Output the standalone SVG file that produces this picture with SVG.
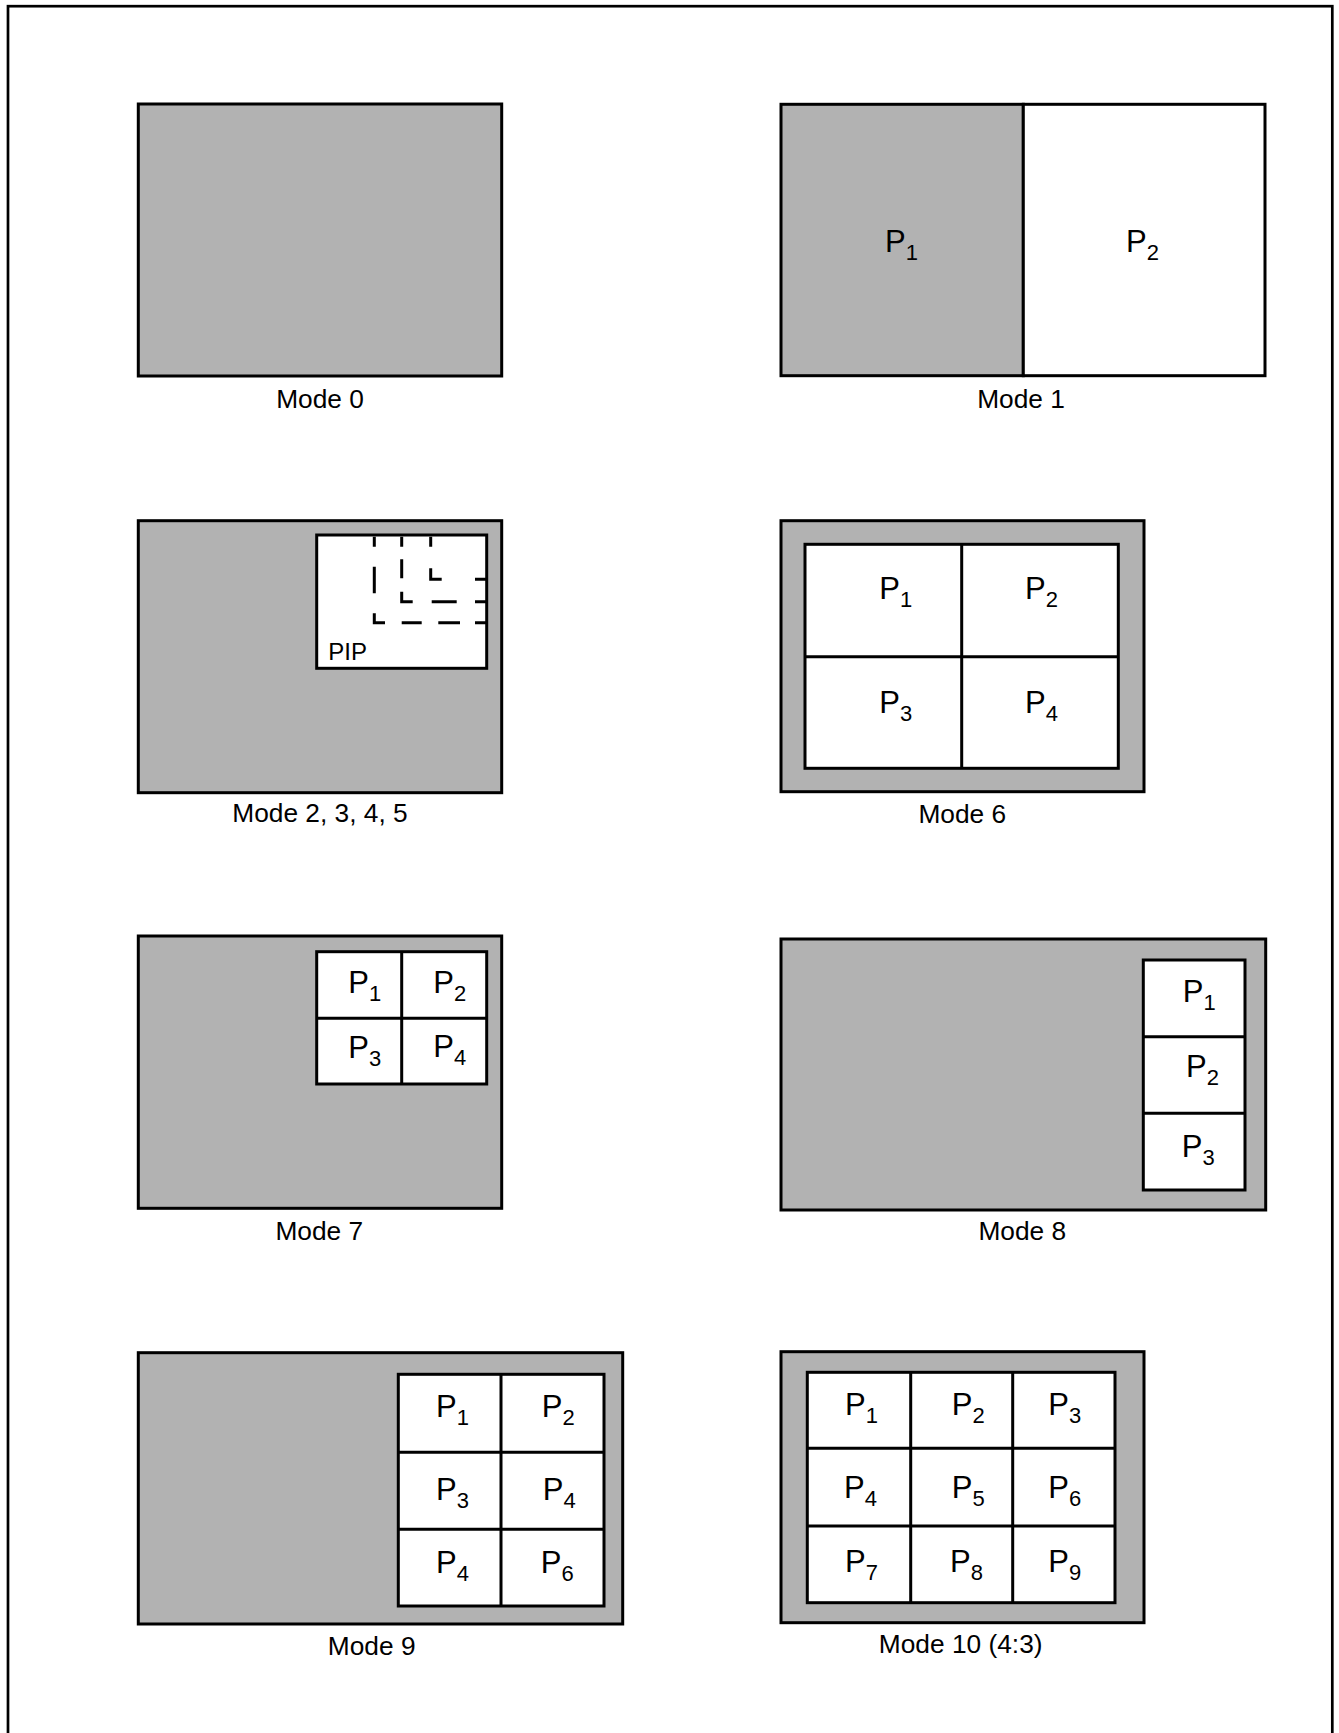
<svg xmlns="http://www.w3.org/2000/svg" width="1339" height="1733" viewBox="0 0 1339 1733">
<style>
.bg{fill:#b2b2b2;stroke:#000;stroke-width:3}
.w{fill:#fff;stroke:#000;stroke-width:3}
.ln{stroke:#000;stroke-width:3;fill:none}
.d{stroke:#000;stroke-width:3;fill:none}
text{font-family:"Liberation Sans",Arial,sans-serif;fill:#000}
.lbl{font-size:26.3px;text-anchor:middle}
.p{font-size:31px}
.s{font-size:22px}
.pip{font-size:24px}
</style>
<rect x="8" y="6.2" width="1324.3" height="1760" fill="none" stroke="#000" stroke-width="2.7"/>

<g id="mode0">
<rect class="bg" x="138.3" y="104" width="363.4" height="272"/>
<text class="lbl" x="320" y="408">Mode 0</text>
</g>

<g id="mode1">
<rect class="bg" x="781" y="104.3" width="242.3" height="271.4"/>
<rect class="w" x="1023.3" y="104.3" width="241.7" height="271.4"/>
<text class="p" x="885" y="252">P<tspan class="s" dy="8">1</tspan></text>
<text class="p" x="1126" y="252">P<tspan class="s" dy="8">2</tspan></text>
<text class="lbl" x="1021" y="408">Mode 1</text>
</g>

<g id="mode2">
<rect class="bg" x="138.3" y="520.7" width="363.4" height="272"/>
<rect class="w" x="316.7" y="535" width="170" height="133.3"/>
<path class="d" d="M374.3 536.7V546.7M374.3 566.7V593.3M374.3 613.3V622.7H385M401.7 622.7H421.7M438.3 622.7H460M475 622.7H486.7"/>
<path class="d" d="M401.7 536.7V546.7M401.7 559.3V578.3M401.7 591.7V601.7H412.7M431.7 601.7H456.7M475 601.7H486.7"/>
<path class="d" d="M430.7 536.7V546.7M430.7 568.3V579.3H441.7M475 579.3H486.7"/>
<text class="pip" x="328.3" y="660">PIP</text>
<text class="lbl" x="320" y="821.7">Mode 2, 3, 4, 5</text>
</g>

<g id="mode6">
<rect class="bg" x="781" y="520.7" width="363" height="271"/>
<rect class="w" x="805" y="544.3" width="313.3" height="224"/>
<path class="ln" d="M961.7 544.3V768.3M805 656.7H1118.3"/>
<text class="p" x="879.3" y="599">P<tspan class="s" dy="8">1</tspan></text>
<text class="p" x="1025" y="599">P<tspan class="s" dy="8">2</tspan></text>
<text class="p" x="879.3" y="713.3">P<tspan class="s" dy="8">3</tspan></text>
<text class="p" x="1025" y="713.3">P<tspan class="s" dy="8">4</tspan></text>
<text class="lbl" x="962.3" y="823.3">Mode 6</text>
</g>

<g id="mode7">
<rect class="bg" x="138.3" y="936" width="363.4" height="272.3"/>
<rect class="w" x="316.7" y="951.7" width="170" height="132.3"/>
<path class="ln" d="M401.7 951.7V1084M316.7 1018.3H486.7"/>
<text class="p" x="348.3" y="993.3">P<tspan class="s" dy="8">1</tspan></text>
<text class="p" x="433.3" y="993.3">P<tspan class="s" dy="8">2</tspan></text>
<text class="p" x="348.3" y="1058.3">P<tspan class="s" dy="8">3</tspan></text>
<text class="p" x="433.3" y="1056.7">P<tspan class="s" dy="8">4</tspan></text>
<text class="lbl" x="319.3" y="1240">Mode 7</text>
</g>

<g id="mode8">
<rect class="bg" x="781" y="939" width="484.7" height="271"/>
<rect class="w" x="1143.3" y="960" width="101.7" height="230"/>
<path class="ln" d="M1143.3 1036.7H1245M1143.3 1113.3H1245"/>
<text class="p" x="1182.7" y="1002.3">P<tspan class="s" dy="8">1</tspan></text>
<text class="p" x="1186" y="1077.3">P<tspan class="s" dy="8">2</tspan></text>
<text class="p" x="1181.7" y="1157.3">P<tspan class="s" dy="8">3</tspan></text>
<text class="lbl" x="1022.3" y="1240">Mode 8</text>
</g>

<g id="mode9">
<rect class="bg" x="138.3" y="1352.7" width="484.4" height="271.3"/>
<rect class="w" x="398.3" y="1374.3" width="205.7" height="231.7"/>
<path class="ln" d="M501 1374.3V1606M398.3 1452.3H604M398.3 1529.3H604"/>
<text class="p" x="436" y="1417.3">P<tspan class="s" dy="8">1</tspan></text>
<text class="p" x="541.7" y="1417.3">P<tspan class="s" dy="8">2</tspan></text>
<text class="p" x="436" y="1500">P<tspan class="s" dy="8">3</tspan></text>
<text class="p" x="542.7" y="1500">P<tspan class="s" dy="8">4</tspan></text>
<text class="p" x="436" y="1573.3">P<tspan class="s" dy="8">4</tspan></text>
<text class="p" x="540.7" y="1573.3">P<tspan class="s" dy="8">6</tspan></text>
<text class="lbl" x="371.7" y="1655">Mode 9</text>
</g>

<g id="mode10">
<rect class="bg" x="781" y="1351.7" width="363" height="271"/>
<rect class="w" x="807.3" y="1372.3" width="307.7" height="230.4"/>
<path class="ln" d="M910.7 1372.3V1602.7M1012.7 1372.3V1602.7M807.3 1448.3H1115M807.3 1526H1115"/>
<text class="p" x="845" y="1415">P<tspan class="s" dy="8">1</tspan></text>
<text class="p" x="951.7" y="1415">P<tspan class="s" dy="8">2</tspan></text>
<text class="p" x="1048.3" y="1415">P<tspan class="s" dy="8">3</tspan></text>
<text class="p" x="844" y="1498.3">P<tspan class="s" dy="8">4</tspan></text>
<text class="p" x="951.7" y="1498.3">P<tspan class="s" dy="8">5</tspan></text>
<text class="p" x="1048.3" y="1498.3">P<tspan class="s" dy="8">6</tspan></text>
<text class="p" x="845" y="1571.7">P<tspan class="s" dy="8">7</tspan></text>
<text class="p" x="950" y="1571.7">P<tspan class="s" dy="8">8</tspan></text>
<text class="p" x="1048.3" y="1571.7">P<tspan class="s" dy="8">9</tspan></text>
<text class="lbl" x="960.7" y="1653.3">Mode 10 (4:3)</text>
</g>

<g id="connectors"></g>
</svg>
